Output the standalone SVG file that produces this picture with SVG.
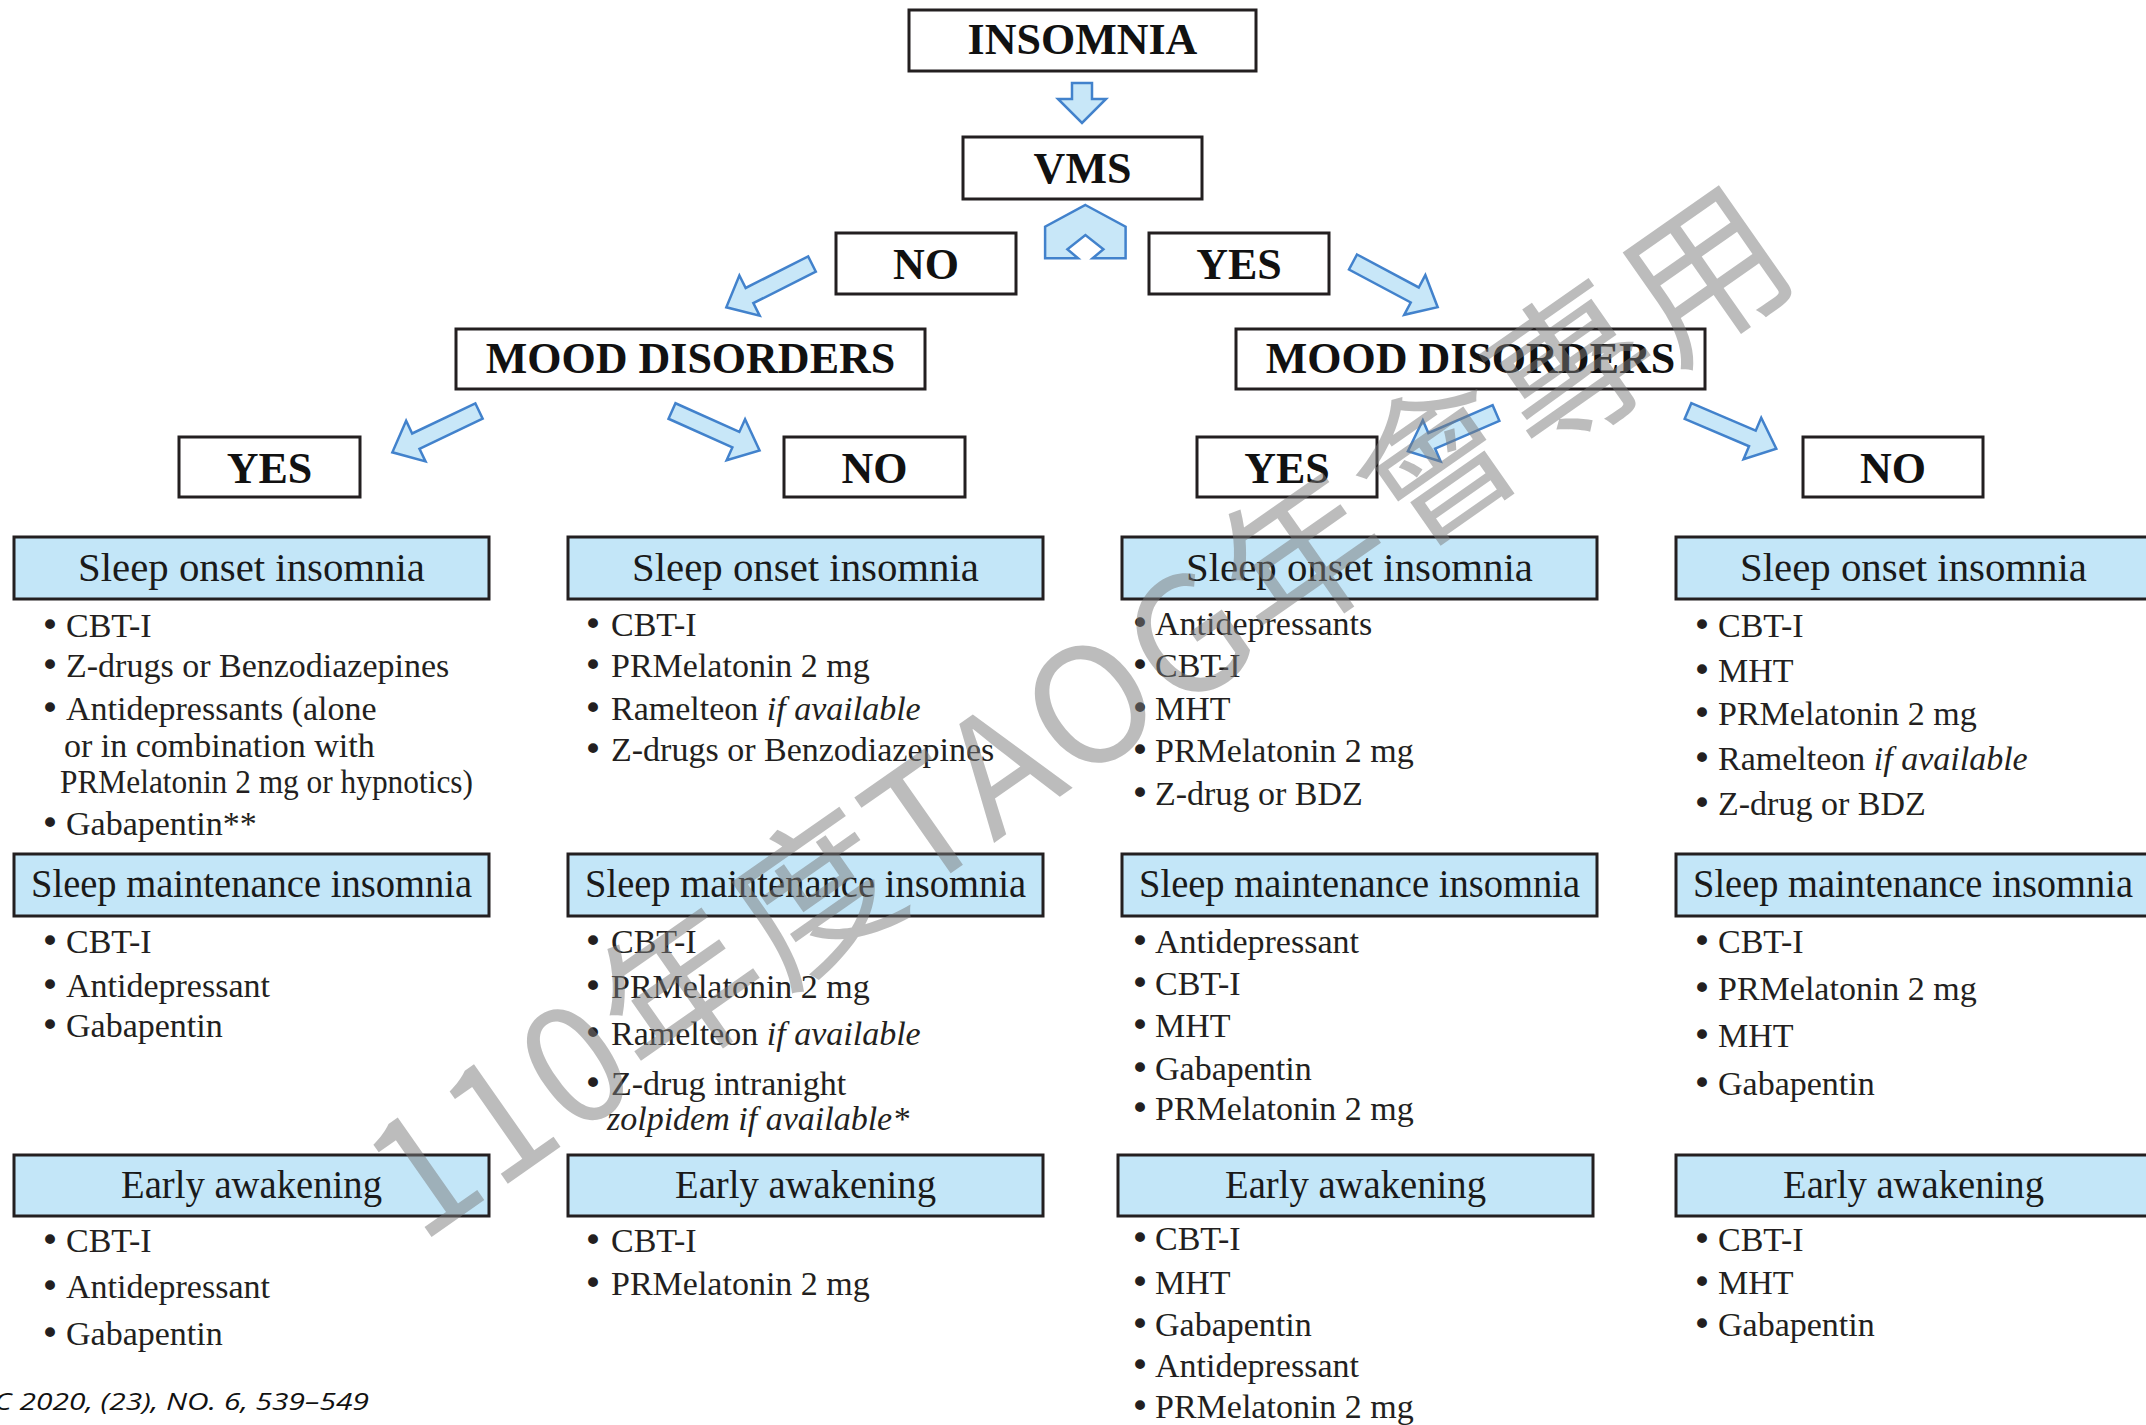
<svg xmlns="http://www.w3.org/2000/svg" xmlns:xlink="http://www.w3.org/1999/xlink" width="2146" height="1425" viewBox="0 0 2146 1425">
  <defs>
    <style>
      .box { fill: #ffffff; stroke: #231f20; stroke-width: 3; }
      .hdr { fill: #c3e6f8; stroke: #231f20; stroke-width: 3; }
      .lbl { font-family: "Liberation Serif", "Times New Roman", serif; font-weight: bold; font-size: 44px; text-anchor: middle; fill: #111111; }
      .htxt { font-family: "Liberation Serif", "Times New Roman", serif; font-size: 40px; text-anchor: middle; fill: #1a1a1a; }
      .item { font-family: "Liberation Serif", "Times New Roman", serif; font-size: 34px; fill: #231f20; }
      .bul { font-family: "DejaVu Sans", sans-serif; }
      .it { font-style: italic; }
      .arrow { fill: #c8e7f8; stroke: #4282cc; stroke-width: 2.5; stroke-linejoin: miter; }
      .foot { font-family: "Open Sans", "Liberation Sans", sans-serif; font-style: italic; font-size: 24px; fill: #111111; }
      .wm { font-family: "Noto Sans CJK TC", "Noto Sans", sans-serif; font-weight: normal; font-size: 160px; fill: #7a7a7a; fill-opacity: 0.5; }
    </style>
    <!-- block arrow pointing along +x, tail at the origin -->
    <path id="blk" d="M0,-8.5 H70 V-22.5 L96,0 L70,22.5 V8.5 H0 Z"/>
  </defs>

  <rect width="2146" height="1425" fill="#ffffff"/>

  <!-- decision nodes -->
  <g id="insomnia"><rect class="box" x="909" y="10" width="347" height="61"/><text class="lbl" x="1082.5" y="54">INSOMNIA</text></g>
  <g id="vms"><rect class="box" x="963" y="137" width="239" height="62"/><text class="lbl" x="1082.5" y="183">VMS</text></g>
  <g id="vms-no"><rect class="box" x="836" y="233" width="180" height="61"/><text class="lbl" x="926" y="279">NO</text></g>
  <g id="vms-yes"><rect class="box" x="1149" y="233" width="180" height="61"/><text class="lbl" x="1239" y="279">YES</text></g>
  <g id="mood-left"><rect class="box" x="456" y="329" width="469" height="60"/><text class="lbl" x="690.5" y="373">MOOD DISORDERS</text></g>
  <g id="mood-right"><rect class="box" x="1236" y="329" width="469" height="60"/><text class="lbl" x="1470.5" y="373">MOOD DISORDERS</text></g>
  <g id="left-yes"><rect class="box" x="179" y="437" width="181" height="60"/><text class="lbl" x="269.5" y="483">YES</text></g>
  <g id="left-no"><rect class="box" x="784" y="437" width="181" height="60"/><text class="lbl" x="874.5" y="483">NO</text></g>
  <g id="right-yes"><rect class="box" x="1197" y="437" width="180" height="60"/><text class="lbl" x="1287" y="483">YES</text></g>
  <g id="right-no"><rect class="box" x="1803" y="437" width="180" height="60"/><text class="lbl" x="1893" y="483">NO</text></g>

  <!-- connectors -->
  <g id="connectors">
    <polygon class="arrow" points="1072,83 1092,83 1092,99 1106,99 1082,123 1058,99 1072,99"/>
    <polygon class="arrow" points="1085.4,205 1125.6,226.7 1125.6,258.3 1092.6,258.3 1103.4,249.3 1085.4,235 1067.4,249.3 1078.1,258.3 1045.1,258.3 1045.1,226.7"/>
    <use xlink:href="#blk" class="arrow" transform="translate(812,264) rotate(153.2)"/>
    <use xlink:href="#blk" class="arrow" transform="translate(1353,262) rotate(28.1)"/>
    <use xlink:href="#blk" class="arrow" transform="translate(479,411) rotate(154.5)"/>
    <use xlink:href="#blk" class="arrow" transform="translate(672,411) rotate(24.2)"/>
    <use xlink:href="#blk" class="arrow" transform="translate(1496,413) rotate(156.6)"/>
    <use xlink:href="#blk" class="arrow" transform="translate(1688,411) rotate(23.1)"/>
  </g>

  <!-- column 1: no VMS, mood disorders -->
  <g id="c1-onset">
    <rect class="hdr" x="14" y="537" width="475" height="62"/>
    <text class="htxt" x="251.5" y="581" textLength="347" lengthAdjust="spacingAndGlyphs">Sleep onset insomnia</text>
    <text class="item" y="637"><tspan class="bul" x="40">•</tspan><tspan x="66">CBT-I</tspan></text>
    <text class="item" y="677"><tspan class="bul" x="40">•</tspan><tspan x="66">Z-drugs or Benzodiazepines</tspan></text>
    <text class="item" y="720"><tspan class="bul" x="40">•</tspan><tspan x="66">Antidepressants (alone</tspan></text>
    <text class="item" x="64" y="757">or in combination with</text>
    <text class="item" x="60" y="793" textLength="413" lengthAdjust="spacingAndGlyphs">PRMelatonin 2 mg or hypnotics)</text>
    <text class="item" y="835"><tspan class="bul" x="40">•</tspan><tspan x="66">Gabapentin**</tspan></text>
  </g>
  <g id="c1-maintenance">
    <rect class="hdr" x="14" y="854" width="475" height="62"/>
    <text class="htxt" x="251.5" y="897" textLength="441" lengthAdjust="spacingAndGlyphs">Sleep maintenance insomnia</text>
    <text class="item" y="953"><tspan class="bul" x="40">•</tspan><tspan x="66">CBT-I</tspan></text>
    <text class="item" y="997"><tspan class="bul" x="40">•</tspan><tspan x="66">Antidepressant</tspan></text>
    <text class="item" y="1037"><tspan class="bul" x="40">•</tspan><tspan x="66">Gabapentin</tspan></text>
  </g>
  <g id="c1-early">
    <rect class="hdr" x="14" y="1155" width="475" height="61"/>
    <text class="htxt" x="251.5" y="1198" textLength="261" lengthAdjust="spacingAndGlyphs">Early awakening</text>
    <text class="item" y="1252"><tspan class="bul" x="40">•</tspan><tspan x="66">CBT-I</tspan></text>
    <text class="item" y="1298"><tspan class="bul" x="40">•</tspan><tspan x="66">Antidepressant</tspan></text>
    <text class="item" y="1345"><tspan class="bul" x="40">•</tspan><tspan x="66">Gabapentin</tspan></text>
  </g>

  <!-- column 2: no VMS, no mood disorders -->
  <g id="c2-onset">
    <rect class="hdr" x="568" y="537" width="475" height="62"/>
    <text class="htxt" x="805.5" y="581" textLength="347" lengthAdjust="spacingAndGlyphs">Sleep onset insomnia</text>
    <text class="item" y="636"><tspan class="bul" x="583">•</tspan><tspan x="611">CBT-I</tspan></text>
    <text class="item" y="677"><tspan class="bul" x="583">•</tspan><tspan x="611">PRMelatonin 2 mg</tspan></text>
    <text class="item" y="720"><tspan class="bul" x="583">•</tspan><tspan x="611">Ramelteon </tspan><tspan class="it">if available</tspan></text>
    <text class="item" y="761"><tspan class="bul" x="583">•</tspan><tspan x="611">Z-drugs or Benzodiazepines</tspan></text>
  </g>
  <g id="c2-maintenance">
    <rect class="hdr" x="568" y="854" width="475" height="62"/>
    <text class="htxt" x="805.5" y="897" textLength="441" lengthAdjust="spacingAndGlyphs">Sleep maintenance insomnia</text>
    <text class="item" y="953"><tspan class="bul" x="583">•</tspan><tspan x="611">CBT-I</tspan></text>
    <text class="item" y="998"><tspan class="bul" x="583">•</tspan><tspan x="611">PRMelatonin 2 mg</tspan></text>
    <text class="item" y="1045"><tspan class="bul" x="583">•</tspan><tspan x="611">Ramelteon </tspan><tspan class="it">if available</tspan></text>
    <text class="item" y="1095"><tspan class="bul" x="583">•</tspan><tspan x="611">Z-drug intranight</tspan></text>
    <text class="item it" x="607" y="1130">zolpidem if available*</text>
  </g>
  <g id="c2-early">
    <rect class="hdr" x="568" y="1155" width="475" height="61"/>
    <text class="htxt" x="805.5" y="1198" textLength="261" lengthAdjust="spacingAndGlyphs">Early awakening</text>
    <text class="item" y="1252"><tspan class="bul" x="583">•</tspan><tspan x="611">CBT-I</tspan></text>
    <text class="item" y="1295"><tspan class="bul" x="583">•</tspan><tspan x="611">PRMelatonin 2 mg</tspan></text>
  </g>

  <!-- column 3: VMS, mood disorders -->
  <g id="c3-onset">
    <rect class="hdr" x="1122" y="537" width="475" height="62"/>
    <text class="htxt" x="1359.5" y="581" textLength="347" lengthAdjust="spacingAndGlyphs">Sleep onset insomnia</text>
    <text class="item" y="635"><tspan class="bul" x="1130">•</tspan><tspan x="1155">Antidepressants</tspan></text>
    <text class="item" y="677"><tspan class="bul" x="1130">•</tspan><tspan x="1155">CBT-I</tspan></text>
    <text class="item" y="720"><tspan class="bul" x="1130">•</tspan><tspan x="1155">MHT</tspan></text>
    <text class="item" y="762"><tspan class="bul" x="1130">•</tspan><tspan x="1155">PRMelatonin 2 mg</tspan></text>
    <text class="item" y="805"><tspan class="bul" x="1130">•</tspan><tspan x="1155">Z-drug or BDZ</tspan></text>
  </g>
  <g id="c3-maintenance">
    <rect class="hdr" x="1122" y="854" width="475" height="62"/>
    <text class="htxt" x="1359.5" y="897" textLength="441" lengthAdjust="spacingAndGlyphs">Sleep maintenance insomnia</text>
    <text class="item" y="953"><tspan class="bul" x="1130">•</tspan><tspan x="1155">Antidepressant</tspan></text>
    <text class="item" y="995"><tspan class="bul" x="1130">•</tspan><tspan x="1155">CBT-I</tspan></text>
    <text class="item" y="1037"><tspan class="bul" x="1130">•</tspan><tspan x="1155">MHT</tspan></text>
    <text class="item" y="1080"><tspan class="bul" x="1130">•</tspan><tspan x="1155">Gabapentin</tspan></text>
    <text class="item" y="1120"><tspan class="bul" x="1130">•</tspan><tspan x="1155">PRMelatonin 2 mg</tspan></text>
  </g>
  <g id="c3-early">
    <rect class="hdr" x="1118" y="1155" width="475" height="61"/>
    <text class="htxt" x="1355.5" y="1198" textLength="261" lengthAdjust="spacingAndGlyphs">Early awakening</text>
    <text class="item" y="1250"><tspan class="bul" x="1130">•</tspan><tspan x="1155">CBT-I</tspan></text>
    <text class="item" y="1294"><tspan class="bul" x="1130">•</tspan><tspan x="1155">MHT</tspan></text>
    <text class="item" y="1336"><tspan class="bul" x="1130">•</tspan><tspan x="1155">Gabapentin</tspan></text>
    <text class="item" y="1377"><tspan class="bul" x="1130">•</tspan><tspan x="1155">Antidepressant</tspan></text>
    <text class="item" y="1418"><tspan class="bul" x="1130">•</tspan><tspan x="1155">PRMelatonin 2 mg</tspan></text>
  </g>

  <!-- column 4: VMS, no mood disorders -->
  <g id="c4-onset">
    <rect class="hdr" x="1676" y="537" width="476" height="62"/>
    <text class="htxt" x="1913.5" y="581" textLength="347" lengthAdjust="spacingAndGlyphs">Sleep onset insomnia</text>
    <text class="item" y="637"><tspan class="bul" x="1692">•</tspan><tspan x="1718">CBT-I</tspan></text>
    <text class="item" y="682"><tspan class="bul" x="1692">•</tspan><tspan x="1718">MHT</tspan></text>
    <text class="item" y="725"><tspan class="bul" x="1692">•</tspan><tspan x="1718">PRMelatonin 2 mg</tspan></text>
    <text class="item" y="770"><tspan class="bul" x="1692">•</tspan><tspan x="1718">Ramelteon </tspan><tspan class="it">if available</tspan></text>
    <text class="item" y="815"><tspan class="bul" x="1692">•</tspan><tspan x="1718">Z-drug or BDZ</tspan></text>
  </g>
  <g id="c4-maintenance">
    <rect class="hdr" x="1676" y="854" width="476" height="62"/>
    <text class="htxt" x="1913" y="897" textLength="440" lengthAdjust="spacingAndGlyphs">Sleep maintenance insomnia</text>
    <text class="item" y="953"><tspan class="bul" x="1692">•</tspan><tspan x="1718">CBT-I</tspan></text>
    <text class="item" y="1000"><tspan class="bul" x="1692">•</tspan><tspan x="1718">PRMelatonin 2 mg</tspan></text>
    <text class="item" y="1047"><tspan class="bul" x="1692">•</tspan><tspan x="1718">MHT</tspan></text>
    <text class="item" y="1095"><tspan class="bul" x="1692">•</tspan><tspan x="1718">Gabapentin</tspan></text>
  </g>
  <g id="c4-early">
    <rect class="hdr" x="1676" y="1155" width="476" height="61"/>
    <text class="htxt" x="1913.5" y="1198" textLength="261" lengthAdjust="spacingAndGlyphs">Early awakening</text>
    <text class="item" y="1251"><tspan class="bul" x="1692">•</tspan><tspan x="1718">CBT-I</tspan></text>
    <text class="item" y="1294"><tspan class="bul" x="1692">•</tspan><tspan x="1718">MHT</tspan></text>
    <text class="item" y="1336"><tspan class="bul" x="1692">•</tspan><tspan x="1718">Gabapentin</tspan></text>
  </g>

  <!-- source line -->
  <text class="foot" x="-6" y="1410" textLength="375" lengthAdjust="spacingAndGlyphs">C 2020, (23), NO. 6, 539–549</text>

  <!-- translucent diagonal stamp over the chart -->
  <g id="watermark">
    <text class="wm" transform="translate(420,1245) rotate(-35)" x="0" y="0" textLength="1690" lengthAdjust="spacing">110年度TAOG年會專用</text>
  </g>
</svg>
